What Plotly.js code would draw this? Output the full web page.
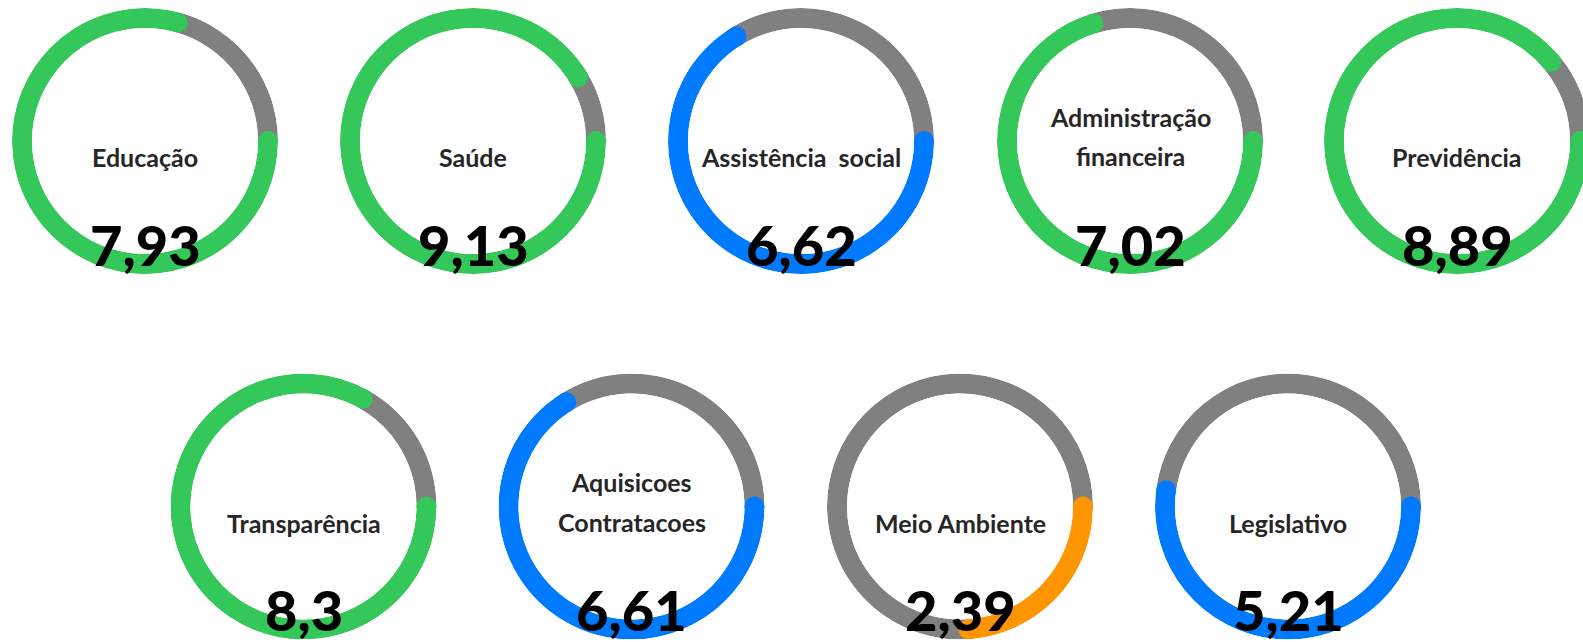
<!DOCTYPE html>
<html>
<head>
<meta charset="utf-8">
<script src="https://cdn.plot.ly/plotly-3.0.1.min.js"></script>
<style>
  html, body { margin: 0; padding: 0; background: #ffffff; overflow: hidden; }
  #chart { width: 1600px; height: 642px; }
</style>
</head>
<body>
<div id="chart"></div>
<script>
// ---- data ----
const categories = ['Educação', 'Saúde', 'Assistência\u00a0 social', 'Administração\nfinanceira', 'Previdência',
                    'Transparência', 'Aquisicoes\nContratacoes', 'Meio Ambiente', 'Legislativo'];
const scores = [7.93, 9.13, 6.62, 7.02, 8.89, 8.3, 6.61, 2.39, 5.21];
const maxScore = 10;

// ---- layout (pixel centres of each gauge) ----
const W = 1600, H = 642;
const centersX = [145, 473, 801, 1130, 1457, 303.5, 631.5, 960, 1288];
const centersY = [141, 141, 141, 141, 141, 506.5, 506.5, 506.5, 506.5];
const R = 133;          // outer radius px
const thickness = 20;   // ring thickness px

const GREEN = '#34C759', BLUE = '#007AFF', ORANGE = '#FF9500', GRAY = '#808080';
function colorFor(v) { return v >= 7 ? GREEN : (v >= 5 ? BLUE : ORANGE); }

const traces = [];
const layout = {
  width: W, height: H,
  margin: {l: 0, r: 0, t: 0, b: 0},
  paper_bgcolor: '#ffffff',
  showlegend: false,
  hovermode: false,
  annotations: []
};

categories.forEach((cat, i) => {
  const v = scores[i];
  const deg = v / maxScore * 360;
  const pid = i === 0 ? 'polar' : 'polar' + (i + 1);
  const cx = centersX[i], cy = centersY[i];
  const col = colorFor(v);

  layout[pid] = {
    domain: {
      x: [(cx - R) / W, (cx + R) / W],
      y: [1 - (cy + R) / H, 1 - (cy - R) / H]
    },
    hole: (R - thickness) / R,
    bgcolor: 'rgba(0,0,0,0)',
    bargap: 0,
    radialaxis: {visible: false, range: [0, 1]},
    angularaxis: {visible: false, rotation: 0, direction: 'clockwise', thetaunit: 'degrees'}
  };

  // grey remainder
  traces.push({
    type: 'barpolar', subplot: pid,
    r: [1], base: [0],
    theta: [deg + (360 - deg) / 2], width: [360 - deg],
    marker: {color: GRAY, line: {width: 0}},
    hoverinfo: 'skip'
  });
  // coloured value arc
  traces.push({
    type: 'barpolar', subplot: pid,
    r: [1], base: [0],
    theta: [deg / 2], width: [deg],
    marker: {color: col, line: {width: 0}},
    hoverinfo: 'skip'
  });
  // round caps
  traces.push({
    type: 'scatterpolar', subplot: pid, mode: 'markers',
    r: [0.5, 0.5], theta: [0, deg],
    marker: {color: col, size: thickness, line: {width: 0}},
    cliponaxis: false,
    hoverinfo: 'skip'
  });

  // labels
  const lines = cat.split('\n');
  const offsets = lines.length === 1 ? [16] : [-24, 15];
  lines.forEach((ln, k) => {
    layout.annotations.push({
      xref: 'paper', yref: 'paper',
      x: cx / W, y: 1 - (cy + offsets[k]) / H,
      xanchor: 'center', yanchor: 'middle',
      text: ln, showarrow: false,
      font: {family: 'Lato, "Open Sans", sans-serif', size: 25, color: '#262626', weight: 700}
    });
  });
  layout.annotations.push({
    xref: 'paper', yref: 'paper',
    x: cx / W, y: 1 - (cy + 103) / H,
    xanchor: 'center', yanchor: 'middle',
    text: String(v).replace('.', ','), showarrow: false,
    font: {family: 'Lato, "Open Sans", sans-serif', size: 56, color: '#000000', weight: 900}
  });
});

Plotly.newPlot('chart', traces, layout, {displayModeBar: false, staticPlot: true});
</script>
</body>
</html>
